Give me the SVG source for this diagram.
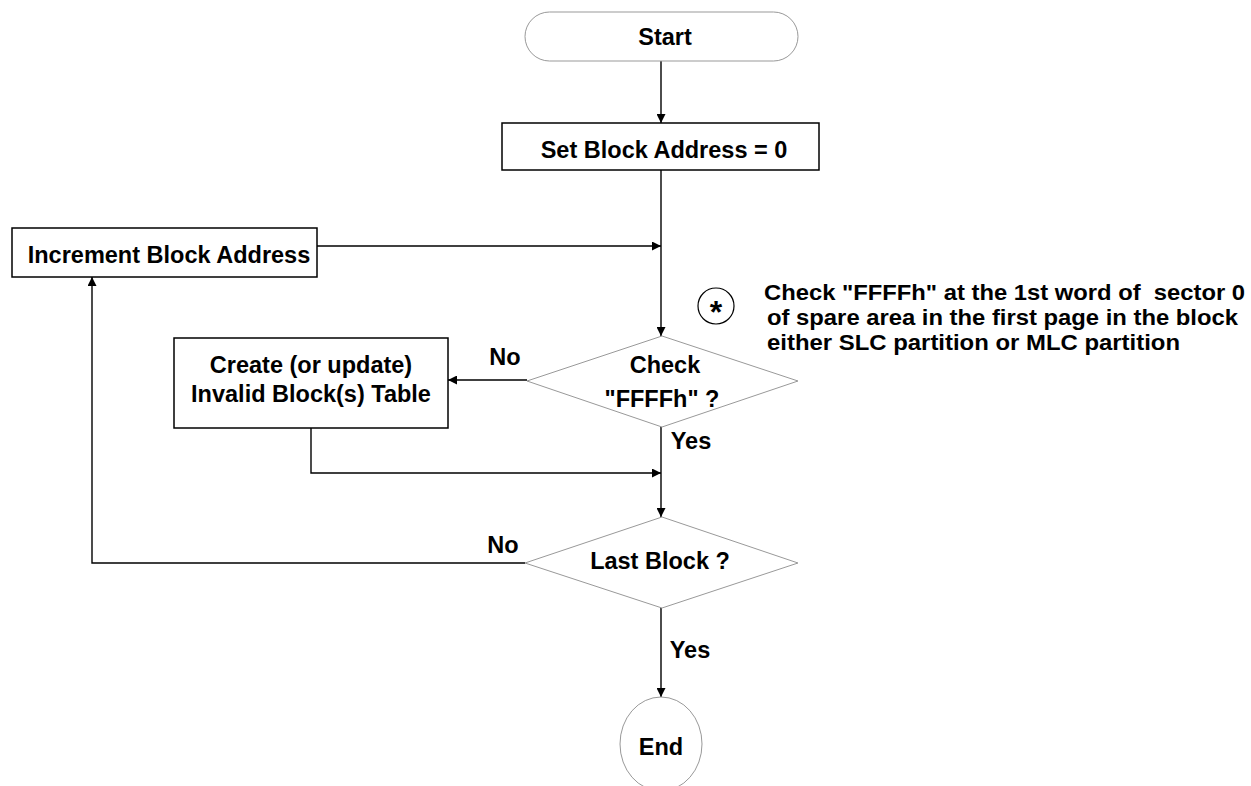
<svg xmlns="http://www.w3.org/2000/svg" width="1251" height="786" viewBox="0 0 1251 786">
<style>
text{font-family:"Liberation Sans",Arial,sans-serif;font-weight:bold;font-size:23.5px;fill:#000}
.c{text-anchor:middle}
.note{font-size:22.5px;white-space:pre}
.box{fill:#fff;stroke:#000;stroke-width:1.5}
.soft{fill:#fff;stroke:#999;stroke-width:1}
.ln{fill:none;stroke:#000;stroke-width:1.4}
</style>
<defs>
<marker id="ah" viewBox="0 0 10 10" refX="10" refY="5" markerWidth="9" markerHeight="9" markerUnits="userSpaceOnUse" orient="auto">
<path d="M0,0 L10,5 L0,10 z" fill="#000"/>
</marker>
</defs>
<rect width="1251" height="786" fill="#fff"/>
<g id="connectors">
<line class="ln" x1="661" y1="61" x2="661" y2="123" marker-end="url(#ah)"/>
<line class="ln" x1="661" y1="170" x2="661" y2="336" marker-end="url(#ah)"/>
<line class="ln" x1="317" y1="246" x2="661" y2="246" marker-end="url(#ah)"/>
<line class="ln" x1="527" y1="380" x2="448" y2="380" marker-end="url(#ah)"/>
<polyline class="ln" points="311,428 311,473 661,473" marker-end="url(#ah)"/>
<line class="ln" x1="661" y1="427" x2="661" y2="517" marker-end="url(#ah)"/>
<polyline class="ln" points="525,563 92,563 92,277" marker-end="url(#ah)"/>
<line class="ln" x1="661" y1="608" x2="661" y2="697" marker-end="url(#ah)"/>
<text x="505" y="365" class="c">No</text>
<text x="691" y="449" class="c">Yes</text>
<text x="503" y="553" class="c">No</text>
<text x="690" y="658" class="c">Yes</text>
</g>
<g id="start">
<rect class="soft" x="525" y="12" width="273" height="49" rx="24.5"/>
<text x="665" y="45" class="c">Start</text>
</g>
<g id="set-block">
<rect class="box" x="502" y="123" width="317" height="47"/>
<text x="664" y="158" class="c">Set Block Address = 0</text>
</g>
<g id="increment">
<rect class="box" x="12" y="228" width="305" height="49"/>
<text x="169" y="263" class="c">Increment Block Address</text>
</g>
<g id="check">
<polygon class="soft" points="662,336 798,381 662,427 527,381"/>
<text x="665" y="373" class="c">Check</text>
<text x="662" y="407" class="c">"FFFFh" ?</text>
</g>
<g id="create">
<rect class="box" x="174" y="338" width="274" height="90"/>
<text x="311" y="373" class="c">Create (or update)</text>
<text x="311" y="402" class="c">Invalid Block(s) Table</text>
</g>
<g id="last-block">
<polygon class="soft" points="662,517 798,563 662,608 525,563"/>
<text x="660" y="569" class="c">Last Block ?</text>
</g>
<g id="end">
<ellipse class="soft" cx="661" cy="744" rx="41" ry="47"/>
<text x="661" y="755" class="c">End</text>
</g>
<g id="note">
<circle cx="716" cy="306" r="18" fill="none" stroke="#000" stroke-width="1.2"/>
<text x="716" y="323" class="c" style="font-size:32px">*</text>
<text x="764" y="300" class="note" textLength="481" lengthAdjust="spacingAndGlyphs" xml:space="preserve">Check "FFFFh" at the 1st word of  sector 0</text>
<text x="767" y="325" class="note" textLength="471" lengthAdjust="spacingAndGlyphs">of spare area in the first page in the block</text>
<text x="767" y="350" class="note" textLength="413" lengthAdjust="spacingAndGlyphs">either SLC partition or MLC partition</text>
</g>
</svg>
